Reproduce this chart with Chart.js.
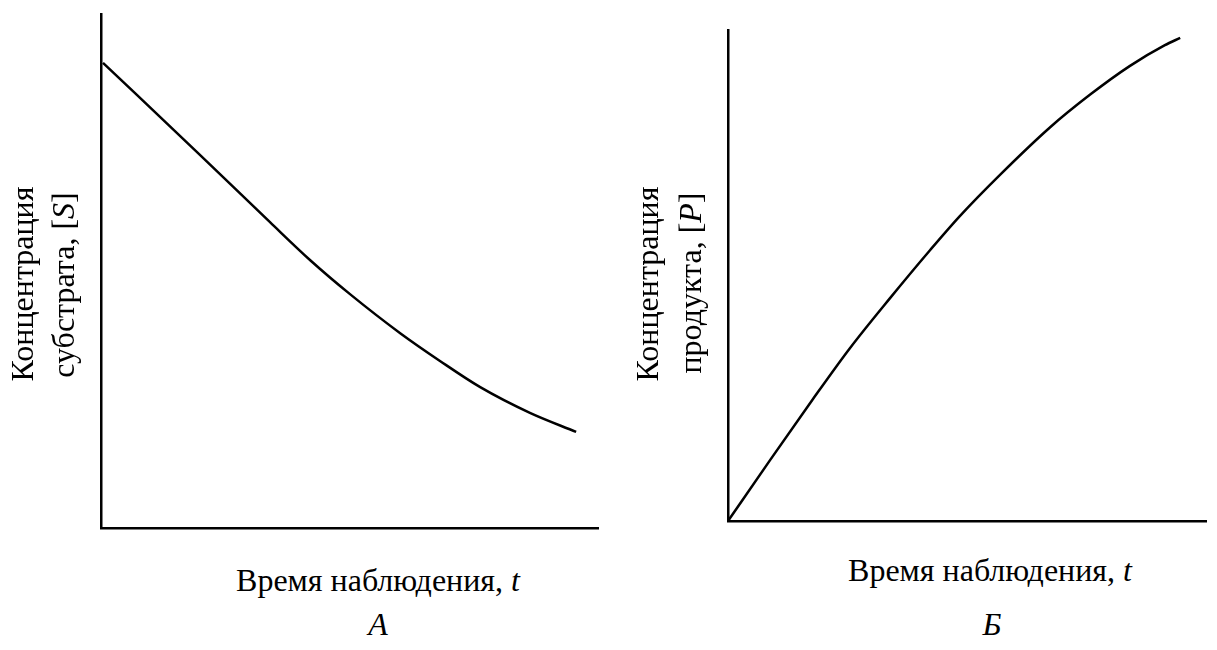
<!DOCTYPE html>
<html>
<head>
<meta charset="utf-8">
<script src="https://cdn.jsdelivr.net/npm/chart.js@4.4.1/dist/chart.umd.min.js"></script>
<style>
  body { margin: 0; background: #fff; }
  #wrap { position: relative; width: 1217px; height: 650px; overflow: hidden; background: #fff; }
  canvas { position: absolute; top: 0; }
  .lbl { position: absolute; font-family: "Liberation Serif", "Times New Roman", serif; font-size: 32px; color: #000; white-space: nowrap; line-height: 1; }
  .rot { transform: translate(-50%, -50%) rotate(-90deg); }
  .ctr { transform: translate(-50%, -50%); }
</style>
</head>
<body>
<div id="wrap">
  <canvas id="graficoA" width="610" height="540" style="left:0"></canvas>
  <canvas id="graficoB" width="607" height="540" style="left:610px"></canvas>

  <div class="lbl rot" style="left:22px; top:284px">Концентрация</div>
  <div class="lbl rot" style="left:63px; top:285px">субстрата, [<i>S</i>]</div>
  <div class="lbl rot" style="left:647px; top:284px">Концентрация</div>
  <div class="lbl rot" style="left:690px; top:283px">продукта, [<i>P</i>]</div>

  <div class="lbl ctr" style="left:378px; top:580px">Время наблюдения, <i>t</i></div>
  <div class="lbl ctr" style="left:990px; top:570px">Время наблюдения, <i>t</i></div>
  <div class="lbl ctr" style="left:378px; top:624px"><i>А</i></div>
  <div class="lbl ctr" style="left:992px; top:624px"><i>Б</i></div>
</div>

<script>
// время (условные единицы) и концентрации
const tempoSubstrato = [0.4, 19.9, 34.0, 42.1, 50.1, 60.2, 68.2, 76.3, 86.3, 95.6];
const substrato = [90.5, 72.6, 59.5, 52.1, 45.5, 37.9, 32.5, 27.4, 22.4, 18.7];

const tempoProduto = [0, 8.8, 17.6, 25.5, 33.9, 42.3, 48.5, 56.9, 67.4, 75.7, 84.1, 91.4, 94.6];
const produto = [0, 12.4, 24.6, 35.2, 45.4, 55.2, 62.1, 70.5, 80.2, 86.8, 92.7, 96.9, 98.4];

function montaPontos(xs, ys) {
    return xs.map((x, i) => ({ x: x, y: ys[i] }));
}

function eixo() {
    return {
        type: 'linear',
        min: 0,
        max: 100,
        ticks: { display: false },
        grid: { display: false, drawTicks: false },
        border: { display: true, color: '#000', width: 2.5 }
    };
}

function criaGrafico(canvas, pontos, padding) {
    return new Chart(canvas, {
        type: 'line',
        data: {
            datasets: [{
                data: pontos,
                borderColor: '#000',
                borderWidth: 2.5,
                pointRadius: 0,
                cubicInterpolationMode: 'monotone',
                fill: false,
                clip: 4
            }]
        },
        options: {
            responsive: false,
            animation: false,
            layout: { padding: padding },
            plugins: { legend: { display: false }, tooltip: { enabled: false } },
            scales: { x: eixo(), y: eixo() }
        }
    });
}

criaGrafico(document.getElementById('graficoA'),
    montaPontos(tempoSubstrato, substrato),
    { left: 101, top: 14, right: 12, bottom: 12 });

criaGrafico(document.getElementById('graficoB'),
    montaPontos(tempoProduto, produto),
    { left: 118, top: 30, right: 11, bottom: 19 });
</script>
</body>
</html>
